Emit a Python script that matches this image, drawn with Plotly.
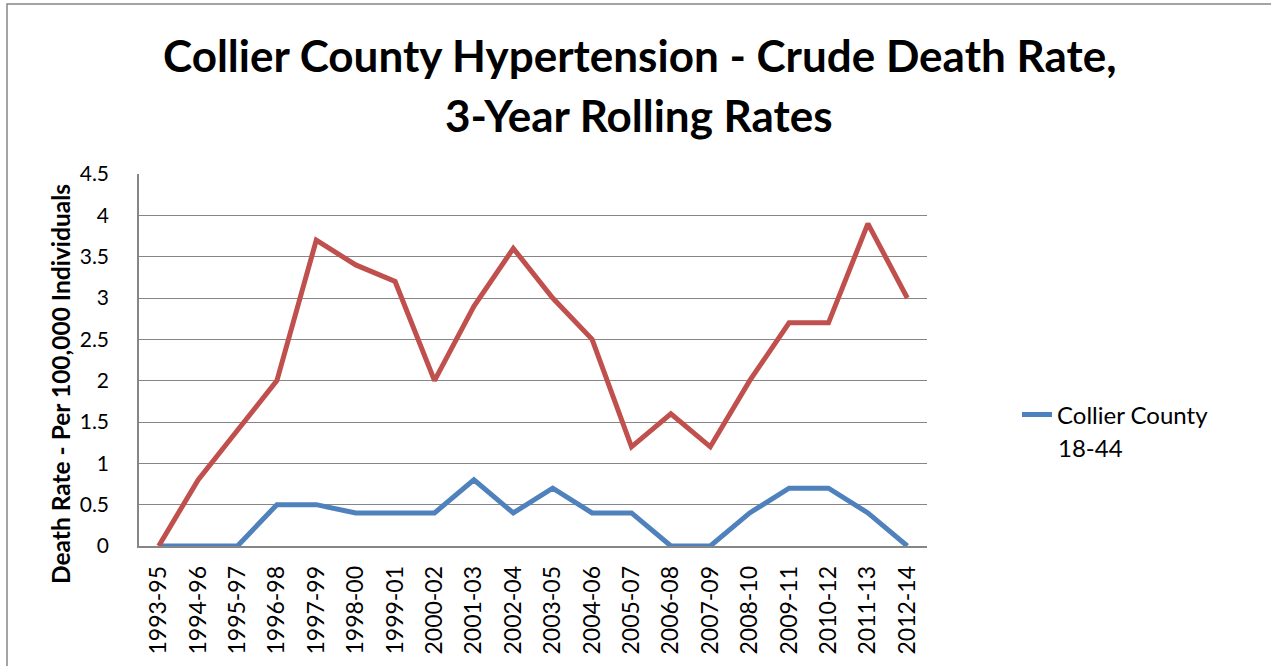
import plotly.graph_objects as go

# rolling 3-year periods
periods = ["1993-95", "1994-96", "1995-97", "1996-98", "1997-99", "1998-00", "1999-01",
           "2000-02", "2001-03", "2002-04", "2003-05", "2004-06", "2005-07", "2006-08",
           "2007-09", "2008-10", "2009-11", "2010-12", "2011-13", "2012-14"]
red_rate = [0, 0.8, 1.4, 2.0, 3.7, 3.4, 3.2, 2.0, 2.9, 3.6, 3.0, 2.5, 1.2, 1.6, 1.2,
            2.0, 2.7, 2.7, 3.9, 3.0]
collier_18_44 = [0, 0, 0, 0.5, 0.5, 0.4, 0.4, 0.4, 0.8, 0.4, 0.7, 0.4, 0.4, 0, 0,
                 0.4, 0.7, 0.7, 0.4, 0]

W, H = 1271, 666
L, R, T, B = 139, 927, 174, 546
pw, ph = R - L, B - T

def px(x):  # page pixel -> paper x
    return (x - L) / pw

def py(y):  # page pixel -> paper y
    return 1 - (y - T) / ph

fig = go.Figure()
fig.add_trace(go.Scatter(x=periods, y=collier_18_44, mode="lines", name="Collier County",
                         line=dict(color="#4F81BD", width=5)))
fig.add_trace(go.Scatter(x=periods, y=red_rate, mode="lines", showlegend=False,
                         line=dict(color="#C0504D", width=5)))

fig.update_layout(
    width=W, height=H,
    margin=dict(l=L, r=W - R, t=T, b=H - B),
    paper_bgcolor="white", plot_bgcolor="white",
    font=dict(family="Lato", color="black"),
    legend=dict(x=px(1017), y=py(415), xanchor="left", yanchor="middle",
                font=dict(size=24), bgcolor="rgba(0,0,0,0)"),
    showlegend=True,
)
fig.update_xaxes(type="category", range=[-0.5, len(periods) - 0.5], showgrid=False,
                 showline=True, linecolor="#868686", linewidth=1.5,
                 tickangle=-90, tickfont=dict(size=23, family="Lato"), ticklabelstandoff=9)
fig.update_yaxes(range=[0, 4.5], dtick=0.5, showgrid=True, gridcolor="#868686", gridwidth=1.3,
                 showline=True, linecolor="#868686", linewidth=1.5, zeroline=False,
                 tickfont=dict(size=21, family="Lato"), ticklabelstandoff=24)

# two-line chart title
fig.add_annotation(text="<b>Collier County Hypertension - Crude Death Rate,</b>",
                   xref="paper", yref="paper", x=px(639), y=py(55),
                   xanchor="center", yanchor="middle", showarrow=False,
                   font=dict(size=44, family="Lato"))
fig.add_annotation(text="<b>3-Year Rolling Rates</b>",
                   xref="paper", yref="paper", x=px(639), y=py(115),
                   xanchor="center", yanchor="middle", showarrow=False,
                   font=dict(size=44, family="Lato"))

fig.add_annotation(text="<b>Death Rate - Per 100,000 Individuals</b>", textangle=-90,
                   xref="paper", yref="paper", x=px(60), y=py(384),
                   xanchor="center", yanchor="middle", showarrow=False,
                   font=dict(size=24.5, family="Lato"))

# second line of the legend label
fig.add_annotation(text="18-44", xref="paper", yref="paper", x=px(1056), y=py(447),
                   xanchor="left", yanchor="middle", showarrow=False,
                   font=dict(size=24, family="Lato"))

# outer chart border (continues off the page to the right and bottom)
fig.add_shape(type="rect", xref="paper", yref="paper",
              x0=px(7), x1=px(1290), y0=py(700), y1=py(4),
              line=dict(color="#868686", width=1.5), fillcolor="rgba(0,0,0,0)", layer="below")

fig.write_html("out.html", config={"displayModeBar": False},
               post_script="document.body.style.margin='0';")
